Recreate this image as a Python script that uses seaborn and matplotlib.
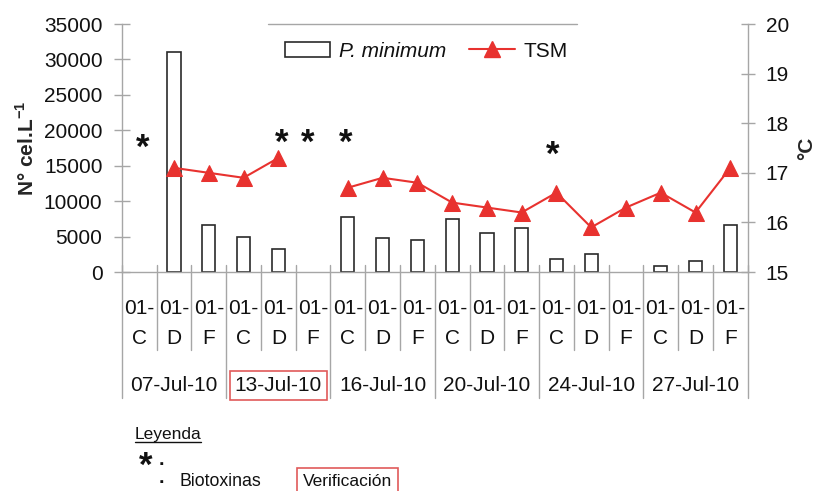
import numpy as np
import pandas as pd
import matplotlib
matplotlib.use("Agg")
import matplotlib.pyplot as plt
from matplotlib.lines import Line2D
from matplotlib.patches import Rectangle
import seaborn as sns

# --- Datos ---------------------------------------------------------------
fechas = ["07-Jul-10", "13-Jul-10", "16-Jul-10", "20-Jul-10", "24-Jul-10", "27-Jul-10"]
estaciones = ["C", "D", "F"]
prefijo = "01-"
p_minimum = [np.nan, 31000, 6700, 5000, 3300, np.nan,
             7700, 4800, 4500, 7500, 5500, 6200,
             1800, 2500, np.nan, 800, 1500, 6700]
tsm = [np.nan, 17.1, 17.0, 16.9, 17.3, np.nan,
       16.7, 16.9, 16.8, 16.4, 16.3, 16.2,
       16.6, 15.9, 16.3, 16.6, 16.2, 17.1]
tramo_tsm = [0] * 6 + [1] * 12
# muestras con biotoxinas (posicion de muestra, altura del asterisco en cel/L)
biotoxinas_x = [0.1, 4.1, 4.85, 5.95, 11.9]
biotoxinas_y = [17400, 18200, 18200, 18200, 16500]
fecha_verificacion = "13-Jul-10"

n = len(p_minimum)
df = pd.DataFrame({
    "muestra": np.arange(n),
    "fecha": np.repeat(fechas, len(estaciones)),
    "estacion": estaciones * len(fechas),
    "p_minimum": p_minimum,
    "tsm": tsm,
    "tramo": tramo_tsm,
})

# --- Estilo --------------------------------------------------------------
sns.set_theme(style="ticks")
plt.rcParams["font.family"] = ["Liberation Sans", "DejaVu Sans"]
plt.rcParams["mathtext.fontset"] = "custom"
plt.rcParams["mathtext.rm"] = "Liberation Sans"
plt.rcParams["mathtext.bf"] = "Liberation Sans:bold"
plt.rcParams["text.color"] = "#111111"
plt.rcParams["ytick.labelcolor"] = "#111111"

gris = "#a6a6a6"
rojo = "#e8322f"
rojo_caja = "#e05a5a"
tinta = "#111111"

fig = plt.figure(figsize=(8.18, 4.91), dpi=100)
ax = fig.add_axes([0.149, 0.446, 0.765, 0.505])

# Barras: abundancia de P. minimum
sns.barplot(data=df, x="muestra", y="p_minimum", order=list(range(n)),
            ax=ax, width=0.38, color="white", saturation=1,
            edgecolor="#2a2a2a", linewidth=1.2, errorbar=None)

# Linea: temperatura superficial del mar (eje derecho)
ax2 = ax.twinx()
sns.lineplot(data=df, x="muestra", y="tsm", units="tramo", estimator=None,
             ax=ax2, color=rojo, linewidth=1.5, marker="^", markersize=11,
             markeredgecolor=rojo, legend=False)

ax.set_xlim(-0.5, n - 0.5)
ax.set_ylim(0, 35000)
ax.set_yticks(range(0, 35001, 5000))
ax2.set_ylim(15, 20)
ax2.set_yticks(range(15, 21))

for a in (ax, ax2):
    for s in a.spines.values():
        s.set_visible(False)
ax.spines["left"].set_visible(True)
ax.spines["bottom"].set_visible(True)
ax2.spines["right"].set_visible(True)
for s in (ax.spines["left"], ax.spines["bottom"], ax2.spines["right"]):
    s.set_color(gris)
    s.set_linewidth(1.0)

ax.tick_params(axis="y", direction="inout", length=12, width=1, color=gris,
               labelsize=15, pad=8)
ax2.tick_params(axis="y", direction="inout", length=10, width=1, color=gris,
                labelsize=15, pad=8)
ax.tick_params(axis="x", length=0, labelbottom=False)
ax.set_xlabel("")

ax.set_ylabel(r"N° cel.L$^{\mathbf{-1}}$", fontsize=15, fontweight="bold",
              labelpad=4)
ax2.set_ylabel("°C", fontsize=15, fontweight="bold", labelpad=6)

# Eje de categorias de dos niveles (estacion / fecha)
xt = ax.get_xaxis_transform()
for i, est in enumerate(df["estacion"]):
    ax.text(i, -0.169, prefijo, transform=xt, ha="center", va="baseline",
            fontsize=15, color=tinta)
    ax.text(i, -0.290, est, transform=xt, ha="center", va="baseline",
            fontsize=15, color=tinta)
for g, fecha in enumerate(fechas):
    centro = g * len(estaciones) + (len(estaciones) - 1) / 2
    caja = None
    if fecha == fecha_verificacion:
        caja = dict(boxstyle="square,pad=0.22", facecolor="none",
                    edgecolor=rojo_caja, linewidth=1.2)
    ax.text(centro, -0.480, fecha, transform=xt, ha="center", va="baseline",
            fontsize=15, color=tinta, bbox=caja)
for b in np.arange(-0.5, n, 1.0):
    grupo = int(round(b + 0.5)) % len(estaciones) == 0
    ax.add_artist(Line2D([b, b], [0.028, -0.508 if grupo else -0.3145],
                         transform=xt, color=gris, linewidth=1.0,
                         clip_on=False))

# Asteriscos de biotoxinas
for bx, by in zip(biotoxinas_x, biotoxinas_y):
    ax.text(bx, by, "*", ha="center", va="center", fontsize=25,
            fontweight="bold", color=tinta)

# Leyenda de series
handles = [Rectangle((0, 0), 1, 1, facecolor="white", edgecolor="#2a2a2a",
                     linewidth=1.2),
           Line2D([], [], color=rojo, linewidth=1.5, marker="^",
                  markersize=11, markeredgecolor=rojo)]
leg = ax2.legend(handles, ["P. minimum", "TSM"], loc="center",
                 bbox_to_anchor=(0.486, 0.891), ncol=2, frameon=False,
                 fontsize=15, handlelength=2.2, handletextpad=0.4,
                 columnspacing=1.1, borderaxespad=0)
leg.get_texts()[0].set_fontstyle("italic")
ax.add_artist(Line2D([0.233, 0.728], [1, 1], transform=ax.transAxes,
                     color=gris, linewidth=1.0, clip_on=False))

# Leyenda inferior
fig.text(0.165, 0.106, "Leyenda", fontsize=12.5, ha="left", va="baseline",
         color=tinta)
fig.add_artist(Line2D([0.165, 0.246], [0.0995, 0.0995],
                      transform=fig.transFigure, color=tinta, linewidth=1.0))
fig.text(0.1785, 0.050, "*", fontsize=25, fontweight="bold", ha="center",
         va="center", color=tinta)
fig.text(0.1975, 0.053, ".", fontsize=14, fontweight="bold", ha="center",
         va="baseline", color=tinta)
fig.text(0.1975, 0.0163, ".", fontsize=14, fontweight="bold", ha="center",
         va="baseline", color=tinta)
fig.text(0.220, 0.0102, "Biotoxinas", fontsize=12.8, ha="left",
         va="baseline", color=tinta)
fig.text(0.3704, 0.0102, "Verificación", fontsize=12.5, ha="left",
         va="baseline", color=tinta,
         bbox=dict(boxstyle="square,pad=0.35", facecolor="none",
                   edgecolor=rojo_caja, linewidth=1.2))

fig.savefig("out.png", dpi=100)
